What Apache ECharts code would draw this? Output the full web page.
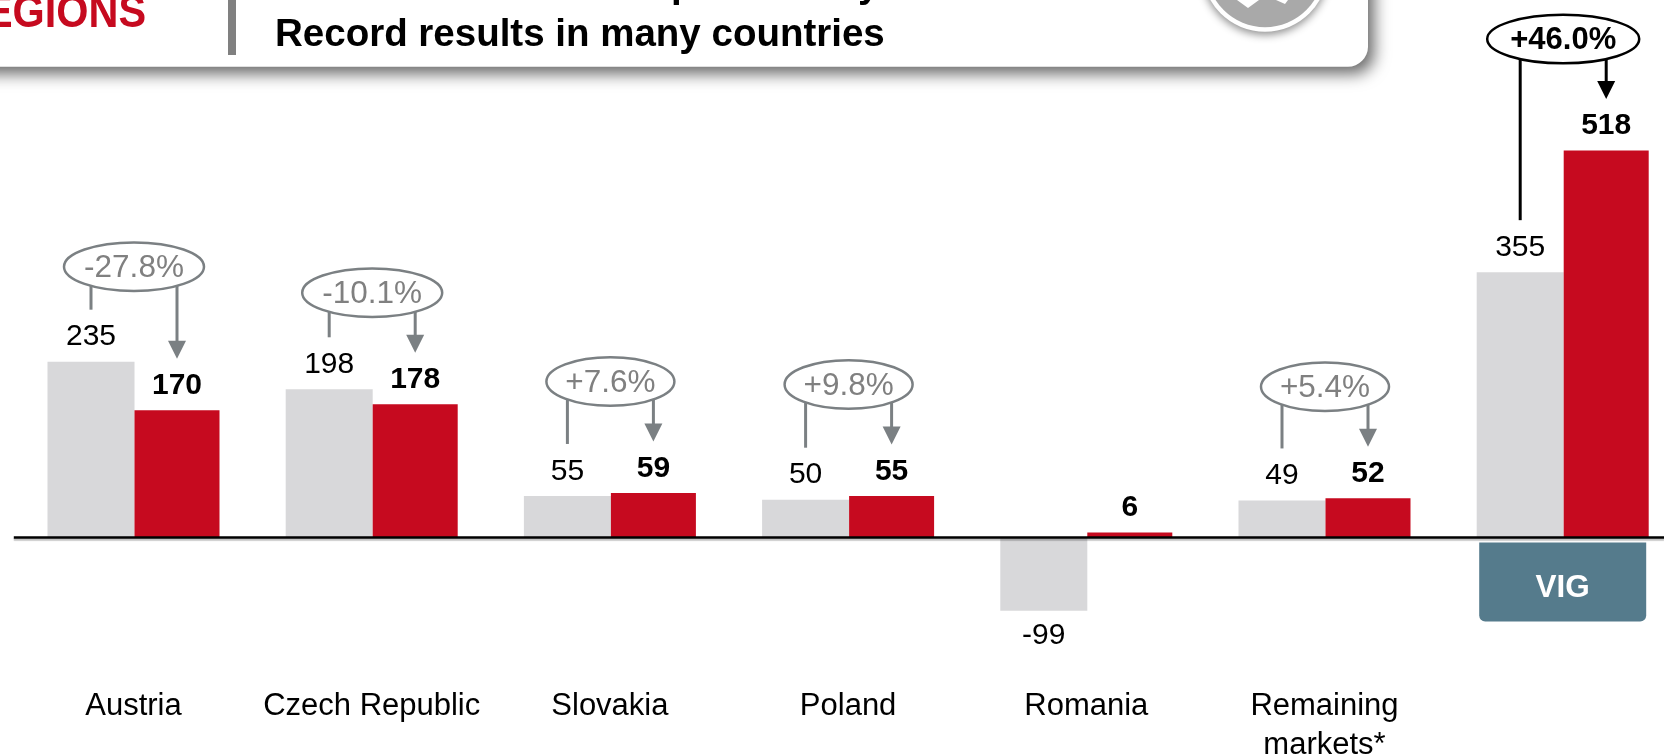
<!DOCTYPE html>
<html><head><meta charset="utf-8">
<style>html,body{margin:0;padding:0;background:#fff}#c{width:1664px;height:755px}</style>
<script src="https://cdn.jsdelivr.net/npm/echarts@6/dist/echarts.min.js"></script>
</head><body><div id="c"></div>
<script>
const categories = ['Austria','Czech Republic','Slovakia','Poland','Romania','Remaining\nmarkets*','VIG'];
const priorValues = [235,198,55,50,-99,49,355];
const currentValues = [170,178,59,55,6,52,518];
const changeLabels = ['-27.8%','-10.1%','+7.6%','+9.8%','','+5.4%','+46.0%'];
const FONT = '"Liberation Sans", Arial, sans-serif';
const RED = '#c60a1f', GREY = '#d8d8da', ANNOT = '#7b8083', TEAL = '#557b8c';
const TOTAL = 6;

const chart = echarts.init(document.getElementById('c'), null, {renderer:'canvas'});

function barLabel(bold){
  return {show:true, position:'top', distance:9.5, fontFamily:FONT, fontSize:30, color:'#000', fontWeight:bold?'bold':'normal'};
}
function barData(values){
  return values.map(v => v < 0 ? {value:v, label:{position:'bottom', distance:10}} : {value:v});
}
function renderChange(params, api){
  const i = api.value(0);
  const total = i === TOTAL;
  const stroke = total ? '#000' : ANNOT;
  const cx = api.coord([i,0])[0] + 0.5;
  const stemX = cx - 43, arrowX = cx + 43;
  const stemEnd = api.coord([i, api.value(1)])[1] - 52;
  const tip = api.coord([i, api.value(2)])[1] - 51.5;
  const cy = Math.min(stemEnd - 43, tip - 60);
  const label = changeLabels[i];
  const rx = total ? 76 : (label.length > 5 ? 70 : 64), ry = 24.3;
  const edge = ry * Math.sqrt(1 - Math.pow(43/rx, 2));
  const ls = {stroke, lineWidth:3, fill:null};
  return {type:'group', children:[
    {type:'line', shape:{x1:stemX,y1:cy+edge,x2:stemX,y2:stemEnd}, style:ls},
    {type:'line', shape:{x1:arrowX,y1:cy+edge,x2:arrowX,y2:tip-17}, style:ls},
    {type:'polygon', shape:{points:[[arrowX-9,tip-18],[arrowX+9,tip-18],[arrowX,tip]]}, style:{fill:stroke}},
    {type:'ellipse', shape:{cx,cy,rx,ry}, style:{fill:'rgba(255,255,255,0)', stroke, lineWidth:2.5}},
    {type:'text', style:{x:cx, y:cy+1.5, text:label, align:'center', verticalAlign:'middle',
      fontFamily:FONT, fontSize:total?31:31.5, fontWeight:total?'bold':'normal', fill:total?'#000':'#808080'}}
  ]};
}
function renderTotalBox(params, api){
  const p = api.coord([api.value(0),0]);
  return {type:'group', children:[
    {type:'rect', shape:{x:p[0]-83.5,y:p[1]+5.5,width:167,height:79,r:[0,0,6,6]}, style:{fill:TEAL}},
    {type:'text', style:{x:p[0],y:p[1]+51,text:categories[api.value(0)],align:'center',verticalAlign:'middle',
      fontFamily:FONT,fontSize:31.5,fontWeight:'bold',fill:'#fff'}}
  ]};
}

chart.setOption({
  animation:false,
  backgroundColor:'#fff',
  grid:{left:14.4, top:89.4, width:1667.4, height:559.5, containLabel:false, outerBoundsMode:'none'},
  xAxis:{type:'category', data:categories, axisLine:{show:false,onZero:false}, axisTick:{show:false},
    axisLabel:{interval:0, margin:38, color:'#000', fontFamily:FONT, fontSize:31, lineHeight:39, verticalAlign:'top',
      formatter:v => v === categories[TOTAL] ? '' : v}},
  yAxis:{type:'value', min:-150, max:600, show:false, splitLine:{show:false}},
  series:[
    {type:'bar', name:'prior', data:barData(priorValues), barWidth:87, barGap:0, itemStyle:{color:GREY}, label:barLabel(false),
     markLine:{silent:true, symbol:'none', label:{show:false}, z:5,
       lineStyle:{color:'#000', width:2.5, type:'solid', shadowColor:'rgba(0,0,0,0.25)', shadowOffsetY:2, shadowBlur:1},
       data:[[{x:13.8,yAxis:0},{x:1664,yAxis:0}]]}},
    {type:'bar', name:'current', data:barData(currentValues), barWidth:85, barGap:0, itemStyle:{color:RED}, label:barLabel(true)},
    {type:'custom', name:'change', renderItem:renderChange, clip:false, silent:true, encode:{x:0,y:1},
     data:priorValues.map((p,i)=>[i,p,currentValues[i]]).filter(d=>changeLabels[d[0]]!=='')},
    {type:'custom', name:'totalBox', renderItem:renderTotalBox, clip:false, silent:true, encode:{x:0,y:1}, data:[[TOTAL,0]]}
  ],
  graphic:[
    {type:'rect', z:1, shape:{x:-40,y:-40,width:1408,height:106.7,r:20},
      style:{fill:'#fff', shadowColor:'rgba(0,0,0,0.6)', shadowBlur:16, shadowOffsetX:6, shadowOffsetY:7}},
    {type:'circle', z:2, shape:{cx:1265,cy:-31.3,r:63}, style:{fill:'#fff', shadowColor:'rgba(0,0,0,0.45)', shadowBlur:8, shadowOffsetY:3}},
    {type:'circle', z:3, shape:{cx:1265,cy:-31.3,r:58.5}, style:{fill:'#a9a9a9'}},
    {type:'polygon', z:4, shape:{points:[[1237,0],[1248,8],[1259,0]]}, style:{fill:'#fff'}},
    {type:'polygon', z:4, shape:{points:[[1276,0],[1285,4],[1288,0]]}, style:{fill:'#fff'}},
    {type:'rect', z:4, shape:{x:228,y:-2,width:8,height:57}, style:{fill:'#808080'}},
    {type:'text', z:4, x:146, y:37, scaleX:0.9, style:{x:0,y:0,text:'REGIONS',align:'right',verticalAlign:'bottom',
      fontFamily:FONT,fontSize:46,fontWeight:'bold',fill:RED}},
    {type:'text', z:4, style:{x:275,y:35,text:'Record results in many countries',align:'left',verticalAlign:'middle',
      fontFamily:FONT,fontSize:38.5,fontWeight:'bold',fill:'#000'}},
    {type:'text', z:4, style:{x:671,y:-14,text:'p',align:'left',verticalAlign:'middle',fontFamily:FONT,fontSize:38.5,fontWeight:'bold',fill:'#000'}},
    {type:'text', z:4, style:{x:858,y:-14,text:'y',align:'left',verticalAlign:'middle',fontFamily:FONT,fontSize:38.5,fontWeight:'bold',fill:'#000'}}
  ]
});
</script></body></html>
